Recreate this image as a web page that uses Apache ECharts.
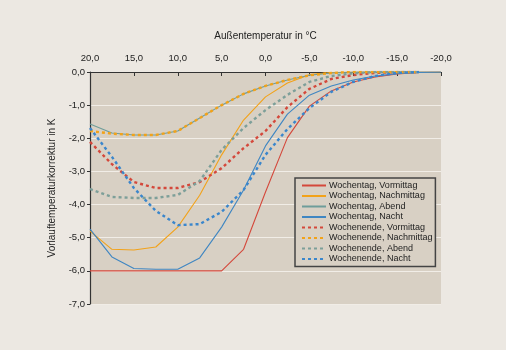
<!DOCTYPE html>
<html><head><meta charset="utf-8">
<script src="https://cdn.jsdelivr.net/npm/echarts@6/dist/echarts.min.js"></script>
<style>html,body{margin:0;padding:0;background:#ece8e2;}#c{width:506px;height:350px;}</style>
</head><body><div id="c"></div>
<script>
var temps = [20, 17.5, 15, 12.5, 10, 7.5, 5, 2.5, 0, -2.5, -5, -7.5, -10, -12.5, -15, -17.5, -20];
var names = ['Wochentag, Vormittag','Wochentag, Nachmittag','Wochentag, Abend','Wochentag, Nacht','Wochenende, Vormittag','Wochenende, Nachmittag','Wochenende, Abend','Wochenende, Nacht'];
var wtVormittag  = [-6.0,-6.0,-6.0,-6.0,-6.0,-6.0,-6.0,-5.35,-3.62,-1.98,-1.03,-0.57,-0.3,-0.15,-0.06,-0.01,0];
var wtNachmittag = [-4.8,-5.35,-5.37,-5.28,-4.68,-3.72,-2.5,-1.45,-0.75,-0.33,-0.08,-0.02,0,0,0,0,0];
var wtAbend      = [-1.57,-1.84,-1.9,-1.9,-1.78,-1.39,-1.0,-0.66,-0.42,-0.24,-0.1,-0.03,0,0,0,0,0];
var wtNacht      = [-4.74,-5.58,-5.93,-5.95,-5.95,-5.61,-4.68,-3.56,-2.23,-1.27,-0.7,-0.42,-0.24,-0.12,-0.05,-0.01,0];
var weVormittag  = [-2.11,-2.78,-3.32,-3.5,-3.5,-3.32,-2.9,-2.3,-1.78,-1.06,-0.51,-0.21,-0.09,-0.03,0,0];
var weNachmittag = [-1.78,-1.86,-1.9,-1.9,-1.78,-1.39,-1.0,-0.66,-0.42,-0.24,-0.1,-0.03,0,0,0,0];
var weAbend      = [-3.53,-3.77,-3.8,-3.8,-3.71,-3.29,-2.35,-1.69,-1.15,-0.69,-0.3,-0.12,-0.04,0,0,0];
var weNacht      = [-1.69,-2.56,-3.5,-4.19,-4.62,-4.59,-4.22,-3.56,-2.5,-1.72,-1.09,-0.6,-0.3,-0.12,-0.03,0];
var xTicks = [20, 15, 10, 5, 0, -5, -10, -15, -20];
var yTicks = [0, -1, -2, -3, -4, -5, -6, -7];

var allData = [wtVormittag, wtNachmittag, wtAbend, wtNacht, weVormittag, weNachmittag, weAbend, weNacht];
var colors = ['#d4483b','#f2a219','#6e9d9a','#3f86c2','#d4483b','#f2a219','#7d9f99','#3a86cc'];
function fmt(v){ return v.toFixed(1).replace('.', ','); }

var series = allData.map(function(arr, i){
  var dashed = i >= 4;
  return {
    name: names[i], type: 'line', symbol: 'none', silent: true,
    data: arr.map(function(v, k){ return [temps[k], v]; }),
    lineStyle: { color: colors[i], width: dashed ? 2.4 : 1.1, type: dashed ? [3, 3] : 'solid' },
    itemStyle: { color: colors[i] },
    z: dashed ? 3 : 2
  };
});

var chart = echarts.init(document.getElementById('c'), null, {renderer: 'canvas'});
chart.setOption({
  backgroundColor: '#ece8e2',
  animation: false,
  textStyle: { fontFamily: 'Liberation Sans, Arial, sans-serif' },
  grid: { left: 90, right: 65, top: 72, bottom: 46, show: true, backgroundColor: '#d8d0c4', borderWidth: 0 },
  xAxis: {
    type: 'value', position: 'top', inverse: true, min: -20, max: 20, interval: 5,
    name: 'Außentemperatur in °C', nameLocation: 'middle', nameGap: 31,
    nameTextStyle: { fontSize: 10, color: '#222' },
    axisLine: { show: true, onZero: false, lineStyle: { color: '#333', width: 1.2 } },
    axisTick: { show: true, inside: true, length: 4, lineStyle: { color: '#333' } },
    axisLabel: { fontSize: 9.5, color: '#222', margin: 9, formatter: function(v){ return fmt(v); } },
    splitLine: { show: false }
  },
  yAxis: {
    type: 'value', min: -7, max: 0, interval: 1, position: 'left',
    name: 'Vorlauftemperaturkorrektur in K', nameLocation: 'middle', nameGap: 25,
    nameTextStyle: { fontSize: 10, color: '#222' },
    axisLine: { show: true, onZero: false, lineStyle: { color: '#333', width: 1.2 } },
    axisTick: { show: true, length: 3, lineStyle: { color: '#333' } },
    axisLabel: { fontSize: 9.5, color: '#222', margin: 5, formatter: function(v){ return fmt(v); } },
    splitLine: { show: true, lineStyle: { color: '#f1ede7', width: 1 } }
  },
  legend: {
    orient: 'vertical', left: 295, top: 178, data: names,
    itemWidth: 24, itemHeight: 9, itemGap: 1.5,
    padding: [3, 3, 3, 6],
    backgroundColor: '#d8d0c4', borderColor: '#444', borderWidth: 1.5,
    itemStyle: { opacity: 0 },
    textStyle: { fontSize: 9, color: '#222', padding: [0, 0, 0, -2] },
    selectedMode: false
  },
  series: series
});
</script></body></html>
